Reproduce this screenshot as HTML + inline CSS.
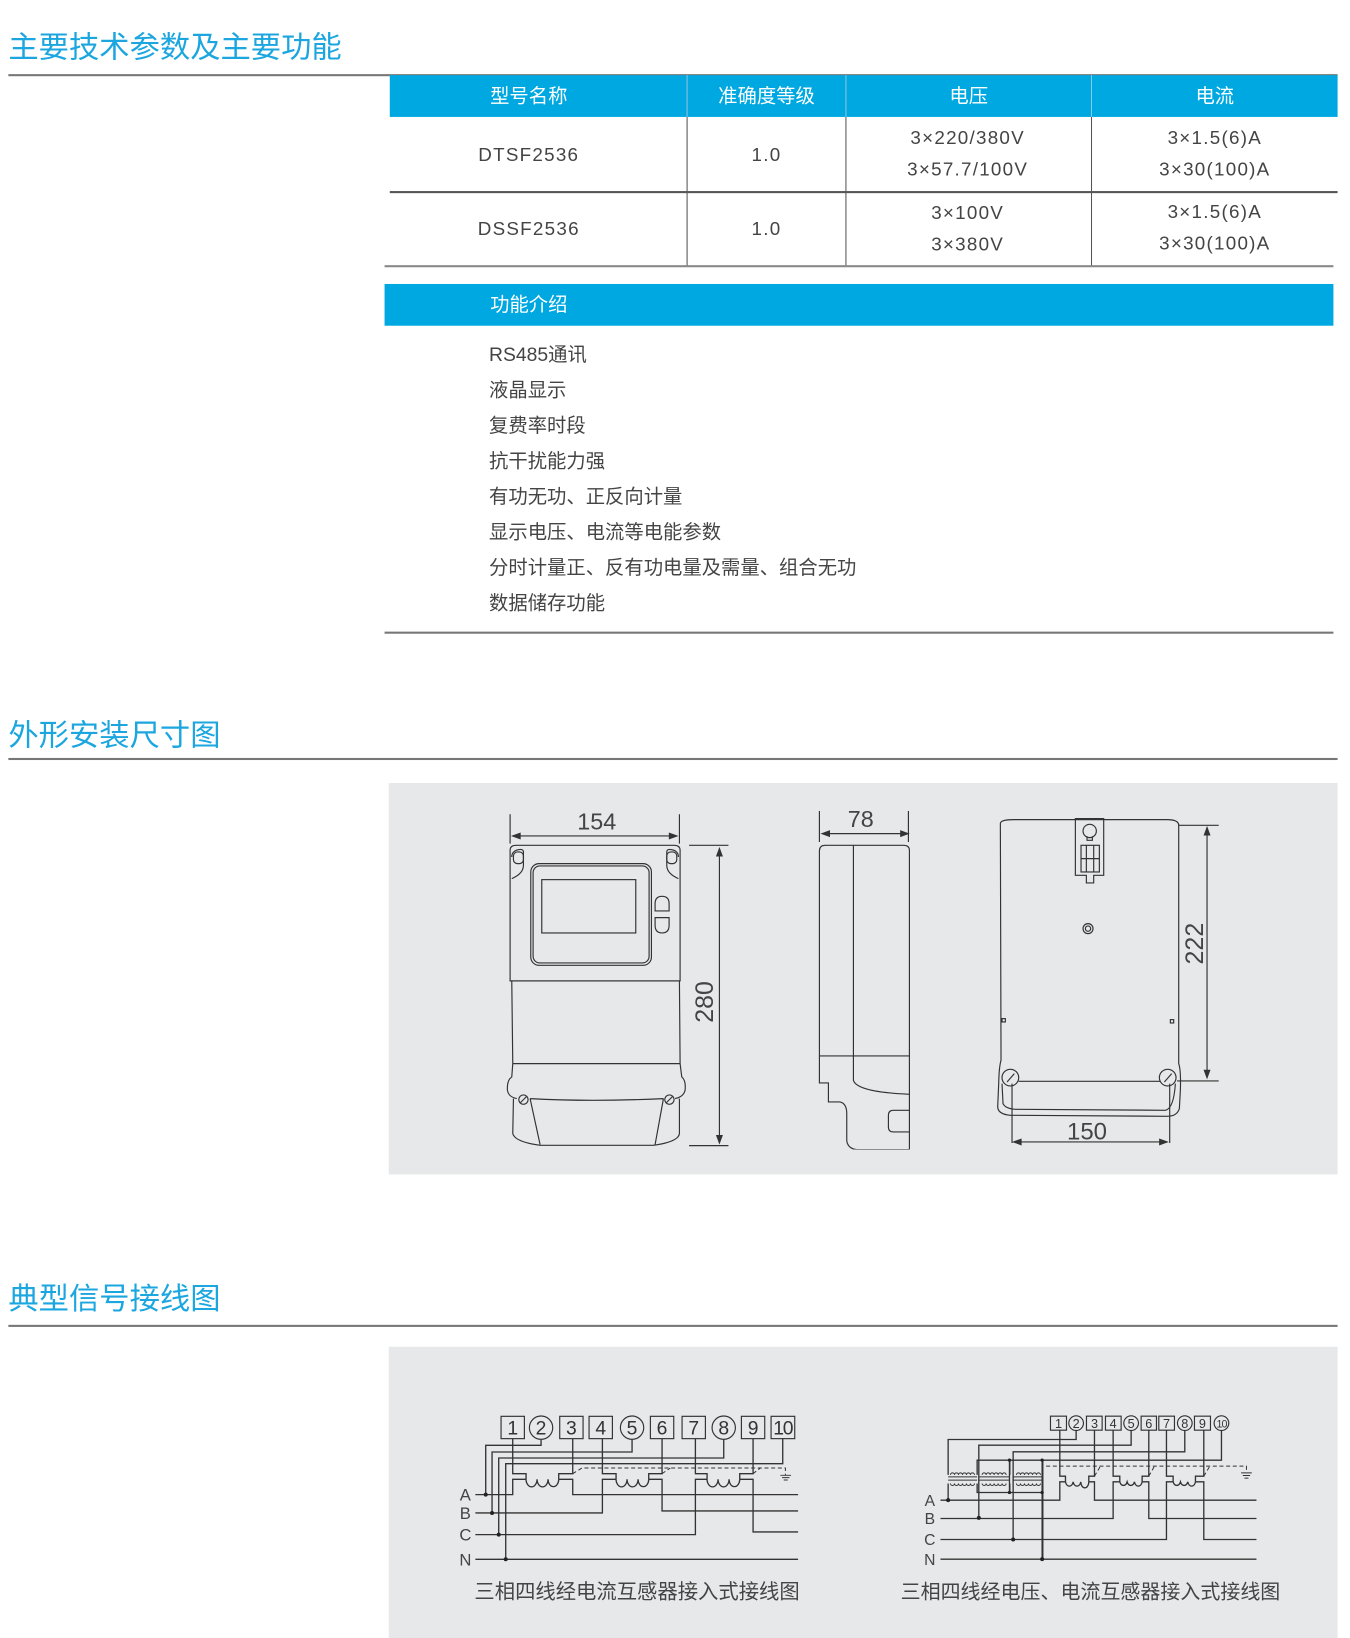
<!DOCTYPE html>
<html><head><meta charset="utf-8"><style>
html,body{margin:0;padding:0;background:#fff;width:1350px;height:1638px;overflow:hidden}
#w{position:absolute;left:0;top:0;width:1292px;height:1569px;transform:scale(1.045,1.044);transform-origin:0 0;font-family:"Liberation Sans","Noto Sans CJK SC",sans-serif}
.a{position:absolute}
.t{color:#1ba6df;font-size:29px;white-space:nowrap}
.hl{background:#777;height:1.5px}
.c{position:absolute;text-align:center;color:#444;font-size:18px;letter-spacing:1.2px;line-height:30px}
.h{position:absolute;color:#fff;font-size:18.5px;text-align:center;line-height:40px}
.li{position:absolute;left:468px;color:#444;font-size:18.5px;white-space:nowrap}
svg text{font-family:"Liberation Sans","Noto Sans CJK SC",sans-serif}
</style></head><body><div id="w">
<div class="a t" style="left:8px;top:22px">主要技术参数及主要功能</div>
<div class="a hl" style="left:8px;top:71px;width:1272px"></div>
<div class="a" style="left:373px;top:72px;width:907px;height:40px;background:#00a8e1"></div>
<div class="a" style="left:657px;top:72px;width:1px;height:183px;background:#555"></div>
<div class="a" style="left:809px;top:72px;width:1px;height:183px;background:#555"></div>
<div class="a" style="left:1044px;top:72px;width:1px;height:183px;background:#555"></div>
<div class="a" style="left:657px;top:72px;width:1px;height:40px;background:#7fd0ef"></div>
<div class="a" style="left:809px;top:72px;width:1px;height:40px;background:#7fd0ef"></div>
<div class="a" style="left:1044px;top:72px;width:1px;height:40px;background:#7fd0ef"></div>
<div class="h" style="left:373px;top:72px;width:266px">型号名称</div>
<div class="h" style="left:658px;top:72px;width:151px">准确度等级</div>
<div class="h" style="left:810px;top:72px;width:234px">电压</div>
<div class="h" style="left:1045px;top:72px;width:235px">电流</div>
<div class="a" style="left:373px;top:183px;width:907px;height:2px;background:#555"></div>
<div class="a" style="left:368px;top:254px;width:908px;height:2px;background:#888"></div>
<div class="c" style="left:373px;top:133px;width:266px">DTSF2536</div>
<div class="c" style="left:658px;top:133px;width:151px">1.0</div>
<div class="c" style="left:810px;top:117px;width:232px">3×220/380V<br>3×57.7/100V</div>
<div class="c" style="left:1045px;top:117px;width:235px">3×1.5(6)A<br>3×30(100)A</div>
<div class="c" style="left:373px;top:204px;width:266px">DSSF2536</div>
<div class="c" style="left:658px;top:204px;width:151px">1.0</div>
<div class="c" style="left:810px;top:189px;width:232px">3×100V<br>3×380V</div>
<div class="c" style="left:1045px;top:188px;width:235px">3×1.5(6)A<br>3×30(100)A</div>
<div class="a" style="left:368px;top:272px;width:908px;height:40px;background:#00a8e1"></div>
<div class="a" style="left:469px;top:272px;color:#fff;font-size:18.5px;line-height:40px">功能介绍</div>
<div class="li" style="top:326px">RS485通讯</div>
<div class="li" style="top:360px">液晶显示</div>
<div class="li" style="top:394px">复费率时段</div>
<div class="li" style="top:428px">抗干扰能力强</div>
<div class="li" style="top:462px">有功无功、正反向计量</div>
<div class="li" style="top:496px">显示电压、电流等电能参数</div>
<div class="li" style="top:530px">分时计量正、反有功电量及需量、组合无功</div>
<div class="li" style="top:564px">数据储存功能</div>
<div class="a" style="left:368px;top:605px;width:908px;height:1.5px;background:#777"></div>

<div class="a t" style="left:8px;top:681px">外形安装尺寸图</div>
<div class="a hl" style="left:8px;top:726px;width:1272px"></div>
<div class="a" style="left:372px;top:750px;width:908px;height:375px;background:#e7e8ea"></div>

<svg class="a" style="left:468.9px;top:756.7px" width="401.9" height="344.8" viewBox="0 0 1260 1080" preserveAspectRatio="none" fill="none" stroke="#333" stroke-width="3.5">
<path d="M60,72V160M568,72V160M597,165H715M597,1066H715"/>
<path d="M70,137H558M688,180V1055"/>
<path d="M68,137l22,-8v16zM560,137l-22,-8v16zM688,175l-8,22h16zM688,1058l-8,-22h16z" fill="#333"/>
<text x="320" y="118" font-size="70" fill="#444" stroke="none" text-anchor="middle">154</text>
<text transform="translate(668,635) rotate(-90)" font-size="75" fill="#444" stroke="none" text-anchor="middle">280</text>
<path d="M60,572V180Q60,165 78,165H552Q570,165 570,180V572Z"/>
<path d="M60,572H570M65,572L68,820M568,572L570,820M68,820H570"/>
<path d="M68,820L65,860Q50,870 52,900Q55,920 80,925M570,820L575,860Q588,870 585,900Q580,920 555,925"/>
<path d="M70,925L68,1030Q75,1055 150,1065L490,1065Q565,1055 568,1030L568,925"/>
<path d="M120,925Q300,935 520,925M120,925L150,1063M520,925L495,1063"/>
<circle cx="100" cy="928" r="14"/><circle cx="538" cy="928" r="14"/>
<path d="M91,937l18,-18M529,937l18,-18"/>
<path d="M65,265Q100,250 100,225V185Q100,175 85,178Q65,182 65,200M565,265Q530,250 530,225V185Q530,175 545,178Q565,182 565,200"/>
<rect x="70" y="185" width="30" height="35" rx="12"/><rect x="530" y="185" width="30" height="35" rx="12"/>
<rect x="122" y="220" width="362" height="305" rx="25"/>
<rect x="129" y="227" width="348" height="291" rx="20"/>
<rect x="155" y="268" width="282" height="160"/>
<path d="M537,362H495V340Q495,318 516,318Q537,318 537,340ZM537,382H495V405Q495,428 516,428Q537,428 537,405Z"/>
<path d="M988,62V155M1255,62V155M998,130H1250"/>
<path d="M996,130l22,-8v16zM1254,130l-22,-8v16z" fill="#333"/>
<text x="1112" y="110" font-size="70" fill="#444" stroke="none" text-anchor="middle">78</text>
<path d="M1258,1080V180Q1258,165 1240,165H1005Q988,165 988,182V878H1015V935H1050Q1070,940 1070,970V1050Q1072,1075 1100,1078H1258"/>
<path d="M1090,165V870Q1100,905 1258,912M988,797H1258"/>
<path d="M1258,960H1210Q1195,960 1195,975V1010Q1195,1025 1210,1025H1258"/>
</svg>

<svg class="a" style="left:918.7px;top:756.7px" width="258.4" height="344.8" viewBox="0 0 810 1080" preserveAspectRatio="none" fill="none" stroke="#333" stroke-width="3.5">
<path d="M120,100Q120,88 160,88L620,88Q655,88 655,105L655,820Q662,840 660,900L657,955Q650,978 620,978L150,975Q113,972 112,950L115,880Q116,830 122,810Z"/>
<path d="M125,880L128,940Q135,955 165,957L615,960Q640,955 645,880"/>
<path d="M175,873H600"/>
<path d="M345,85H430V255H400V278H378V255H345Z"/>
<circle cx="388" cy="122" r="20"/><path d="M380,138V150H396V138"/>
<rect x="362" y="165" width="55" height="80"/><path d="M362,205H417M378,165V245M400,165V245"/>
<circle cx="383" cy="415" r="15"/><circle cx="383" cy="415" r="8"/>
<rect x="125" y="685" width="10" height="10"/><rect x="630" y="688" width="10" height="10"/>
<circle cx="150" cy="862" r="25"/><circle cx="622" cy="862" r="25"/>
<path d="M140,875l22,-25M612,875l22,-25"/>
<path d="M655,105H775M650,872H775M740,118V857M155,880V1058M628,880V1058M165,1055H615"/>
<path d="M740,112l-8,22h16zM740,862l-8,-22h16zM160,1055l22,-8v16zM620,1055l-22,-8v16z" fill="#333"/>
<text transform="translate(728,460) rotate(-90)" font-size="75" fill="#444" stroke="none" text-anchor="middle">222</text>
<text x="380" y="1048" font-size="72" fill="#444" stroke="none" text-anchor="middle">150</text>
</svg>

<div class="a t" style="left:8px;top:1221px">典型信号接线图</div>
<div class="a hl" style="left:8px;top:1269px;width:1272px"></div>
<div class="a" style="left:372px;top:1290px;width:908px;height:279px;background:#e7e8ea"></div>

<svg class="a" style="left:363.6px;top:1302.7px" width="478.5" height="249" viewBox="0 0 1500 780" preserveAspectRatio="none" fill="none" stroke="#333" stroke-width="4">
<g stroke-width="3.5">
<rect x="362" y="168" width="70" height="67"/><circle cx="482" cy="202" r="35"/><rect x="538" y="168" width="70" height="67"/><rect x="626" y="168" width="70" height="67"/><circle cx="755" cy="202" r="35"/><rect x="810" y="168" width="70" height="67"/><rect x="905" y="168" width="70" height="67"/><circle cx="1030" cy="202" r="35"/><rect x="1083" y="168" width="70" height="67"/><rect x="1172" y="168" width="71" height="67"/>
</g>
<g fill="#333" stroke="none" font-size="58" text-anchor="middle">
<text x="397" y="223">1</text><text x="482" y="223">2</text><text x="573" y="223">3</text><text x="661" y="223">4</text><text x="755" y="223">5</text><text x="845" y="223">6</text><text x="940" y="223">7</text><text x="1030" y="223">8</text><text x="1118" y="223">9</text><text x="1207" y="223" letter-spacing="-4">10</text>
</g>
<path d="M482,237V255H316V403M755,237V275H335V458M1030,237V293H355V523M1207,235V310H376V597"/>
<path d="M397,235V340H437V357M535,357V340H577V235M666,235V340H707V357M805,357V340H845V235M945,235V340H980V357M1078,357V340H1118V235"/>
<path d="M437,357a16,22 0 0 0 33,0a16,22 0 0 0 33,0a16,22 0 0 0 32,0M707,357a16,22 0 0 0 33,0a16,22 0 0 0 33,0a16,22 0 0 0 32,0M980,357a16,22 0 0 0 33,0a16,22 0 0 0 33,0a16,22 0 0 0 32,0"/>
<path d="M285,403H397V357H437M535,357H577V403H1253M285,458H666V357H707M805,357H845V452H1253M285,523H945V357H980M1078,357H1118V515H1253M285,597H1253"/>
<path d="M577,340L605,323H1215V345M845,340L870,323M1118,340L1140,323" stroke-dasharray="12,8" stroke-width="3"/>
<path d="M1200,345H1232M1205,352H1227M1210,359H1222" stroke-width="3"/>
<g fill="#222" stroke="none"><circle cx="316" cy="403" r="6"/><circle cx="335" cy="458" r="6"/><circle cx="355" cy="523" r="6"/><circle cx="376" cy="597" r="6"/></g>
<g fill="#444" stroke="none" font-size="50" text-anchor="middle"><text x="255" y="421">A</text><text x="255" y="476">B</text><text x="255" y="541">C</text><text x="255" y="615">N</text>
<text x="770" y="715" font-size="61">三相四线经电流互感器接入式接线图</text></g>
</svg>

<svg class="a" style="left:832.5px;top:1321.8px" width="459.3" height="229.9" viewBox="0 0 1440 720" preserveAspectRatio="none" fill="none" stroke="#333" stroke-width="4">
<g stroke-width="3.5">
<rect x="540" y="108" width="48" height="42"/><circle cx="617" cy="129" r="22"/><rect x="648" y="108" width="47" height="42"/><rect x="705" y="108" width="47" height="42"/><circle cx="782" cy="129" r="22"/><rect x="812" y="108" width="46" height="42"/><rect x="865" y="108" width="47" height="42"/><circle cx="943" cy="129" r="22"/><rect x="972" y="108" width="48" height="42"/><circle cx="1053" cy="129" r="22"/>
</g>
<g fill="#333" stroke="none" font-size="38" text-anchor="middle">
<text x="564" y="143">1</text><text x="617" y="143">2</text><text x="672" y="143">3</text><text x="728" y="143">4</text><text x="782" y="143">5</text><text x="835" y="143">6</text><text x="888" y="143">7</text><text x="943" y="143">8</text><text x="996" y="143">9</text><text x="1053" y="142" font-size="32" letter-spacing="-3">10</text>
</g>
<path d="M617,151V178H233V284M782,151V195H325V413M943,151V215H428V478M1053,151V240H517V537"/>
<path d="M233,290H320M325,290H418M428,290H517M233,300H320M325,300H418M428,300H517" stroke-width="3"/>
<path d="M240,284a6,6 0 0 1 12,0a6,6 0 0 1 12,0a6,6 0 0 1 12,0a6,6 0 0 1 12,0a6,6 0 0 1 12,0a6,6 0 0 1 12,0M335,284a6,6 0 0 1 12,0a6,6 0 0 1 12,0a6,6 0 0 1 12,0a6,6 0 0 1 12,0a6,6 0 0 1 12,0a6,6 0 0 1 12,0M438,284a6,6 0 0 1 12,0a6,6 0 0 1 12,0a6,6 0 0 1 12,0a6,6 0 0 1 12,0a6,6 0 0 1 12,0a6,6 0 0 1 12,0" stroke-width="3"/>
<path d="M240,310a6,6 0 0 0 12,0a6,6 0 0 0 12,0a6,6 0 0 0 12,0a6,6 0 0 0 12,0a6,6 0 0 0 12,0a6,6 0 0 0 12,0M335,310a6,6 0 0 0 12,0a6,6 0 0 0 12,0a6,6 0 0 0 12,0a6,6 0 0 0 12,0a6,6 0 0 0 12,0a6,6 0 0 0 12,0M438,310a6,6 0 0 0 12,0a6,6 0 0 0 12,0a6,6 0 0 0 12,0a6,6 0 0 0 12,0a6,6 0 0 0 12,0a6,6 0 0 0 12,0" stroke-width="3"/>
<path d="M233,310V360M320,284V240H417V284M320,310V337H417V310M418,284V240H515V284M418,310V337H515V310M515,240V537M417,337V240"/>
<path d="M568,150V288H585V305M655,305V288H672V150M728,150V288H748V305M815,305V288H835V150M888,150V288H908V305M975,305V288H1000V150"/>
<path d="M585,305a12,18 0 0 0 23,0a12,18 0 0 0 23,0a12,18 0 0 0 24,0M748,305a12,18 0 0 0 22,0a12,18 0 0 0 22,0a12,18 0 0 0 23,0M908,305a12,18 0 0 0 22,0a12,18 0 0 0 22,0a12,18 0 0 0 23,0"/>
<path d="M210,360H568V305H585M655,305H672V360H1158M210,415H728V305H748M815,305H835V415H1158M210,478H888V305H908M975,305H1000V478H1158M210,537H1158"/>
<path d="M527,258H1128V278M672,288L690,258M835,288L852,258M1000,288L1018,258" stroke-dasharray="12,8" stroke-width="3"/>
<path d="M1112,278H1144M1117,286H1139M1122,294H1134" stroke-width="3"/>
<g fill="#222" stroke="none"><circle cx="233" cy="360" r="6"/><circle cx="325" cy="413" r="6"/><circle cx="428" cy="478" r="6"/><circle cx="515" cy="537" r="6"/><circle cx="417" cy="240" r="5"/><circle cx="417" cy="337" r="5"/><circle cx="515" cy="240" r="5"/><circle cx="515" cy="337" r="5"/></g>
<g fill="#444" stroke="none" font-size="47" text-anchor="middle"><text x="178" y="377">A</text><text x="178" y="432">B</text><text x="178" y="495">C</text><text x="178" y="554">N</text>
<text x="660" y="655" font-size="60">三相四线经电压、电流互感器接入式接线图</text></g>
</svg>
</div></body></html>
